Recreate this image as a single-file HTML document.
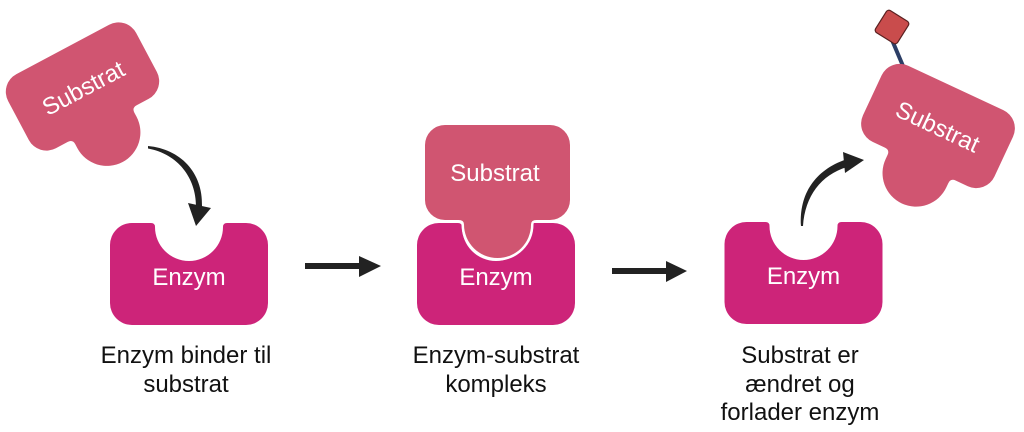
<!DOCTYPE html>
<html>
<head>
<meta charset="utf-8">
<style>
  html,body{margin:0;padding:0;background:#fff;}
  svg{display:block;}
  text{font-family:"Liberation Sans",Arial,sans-serif;}
</style>
</head>
<body>
<svg width="1024" height="432" viewBox="0 0 1024 432" xmlns="http://www.w3.org/2000/svg">
  <defs>
    <path id="sub" d="M -52.5,-47.5 H 52.5 A 20 20 0 0 1 72.5,-27.5 V 27.5 A 20 20 0 0 1 52.5,47.5 H 39 Q 33.5,47.5 33.5,52 A 33.5 33.5 0 0 1 -33.5,52 Q -33.5,47.5 -39,47.5 H -52.5 A 20 20 0 0 1 -72.5,27.5 V -27.5 A 20 20 0 0 1 -52.5,-47.5 Z"/>
    <path id="sub2" d="M -52.5,-42 H 52.5 A 20 20 0 0 1 72.5,-22 V 22 A 20 20 0 0 1 52.5,42 H 39 Q 33.5,42 33.5,47.5 V 52 A 33.5 33.5 0 0 1 -33.5,52 V 47.5 Q -33.5,42 -39,42 H -52.5 A 20 20 0 0 1 -72.5,22 V -22 A 20 20 0 0 1 -52.5,-42 Z"/>
    <path id="enz" d="M -57,-51 H -38 Q -34,-51 -34,-47 A 34 34 0 0 0 34,-47 Q 34,-51 38,-51 H 57 A 22 22 0 0 1 79,-29 V 29 A 22 22 0 0 1 57,51 H -57 A 22 22 0 0 1 -79,29 V -29 A 22 22 0 0 1 -57,-51 Z"/>
  </defs>

  <!-- ===== Step 1 ===== -->
  <g transform="translate(82.5,86.5) rotate(-28)">
    <use href="#sub2" fill="#d05571"/>
    <text x="0" y="10" font-size="24" fill="#fff" text-anchor="middle">Substrat</text>
  </g>
  <!-- curved arrow 1 -->
  <path d="M 148,146 C 180,149 203,172 202,206 L 196,206 C 196,178 178,154 148,148.5 Z" fill="#222"/>
  <polygon points="188,203 211,208 196,226" fill="#222"/>

  <g transform="translate(189,274)">
    <use href="#enz" fill="#cd2479"/>
  </g>
  <text x="189" y="285" font-size="24" fill="#fff" text-anchor="middle">Enzym</text>

  <!-- arrow straight 1 -->
  <rect x="305" y="263" width="57" height="6" fill="#222"/>
  <polygon points="359,256 381,266 359,277" fill="#222"/>

  <!-- ===== Step 2 ===== -->
  <g transform="translate(496,274)">
    <use href="#enz" fill="#cd2479"/>
  </g>
  <g transform="translate(497.5,172.5)">
    <use href="#sub" fill="#d05571" stroke="#fff" stroke-width="5" paint-order="stroke"/>
  </g>
  <text x="495" y="181" font-size="24" fill="#fff" text-anchor="middle">Substrat</text>
  <text x="496" y="285" font-size="24" fill="#fff" text-anchor="middle">Enzym</text>

  <!-- arrow straight 2 -->
  <rect x="612" y="268" width="56" height="6" fill="#222"/>
  <polygon points="666,261 687,271 666,282" fill="#222"/>

  <!-- ===== Step 3 ===== -->
  <g transform="translate(803.5,273)">
    <use href="#enz" fill="#cd2479"/>
  </g>
  <text x="803.5" y="284" font-size="24" fill="#fff" text-anchor="middle">Enzym</text>

  <!-- curved arrow 2 -->
  <path d="M 801,226 C 799,194 815,170 846,159.5 L 847,167 C 821,175 805,196 803,226 Z" fill="#222"/>
  <polygon points="843,152 864,160 845,173" fill="#222"/>

  <!-- modified group -->
  <line x1="903" y1="66" x2="892" y2="40" stroke="#2c3e66" stroke-width="4"/>
  <rect x="879" y="14" width="26" height="26" rx="3" fill="#c94c4c" stroke="#5a2020" stroke-width="1.2" transform="rotate(32 892 27)"/>

  <g transform="translate(938,126) rotate(25)">
    <use href="#sub2" fill="#d05571"/>
    <text x="0" y="9" font-size="24" fill="#fff" text-anchor="middle">Substrat</text>
  </g>

  <!-- ===== Labels ===== -->
  <g font-size="24" fill="#111" text-anchor="middle">
    <text x="186" y="363">Enzym binder til</text>
    <text x="186" y="392">substrat</text>

    <text x="496" y="363">Enzym-substrat</text>
    <text x="496" y="392">kompleks</text>

    <text x="800" y="363">Substrat er</text>
    <text x="800" y="392">ændret og</text>
    <text x="800" y="420">forlader enzym</text>
  </g>
</svg>
</body>
</html>
